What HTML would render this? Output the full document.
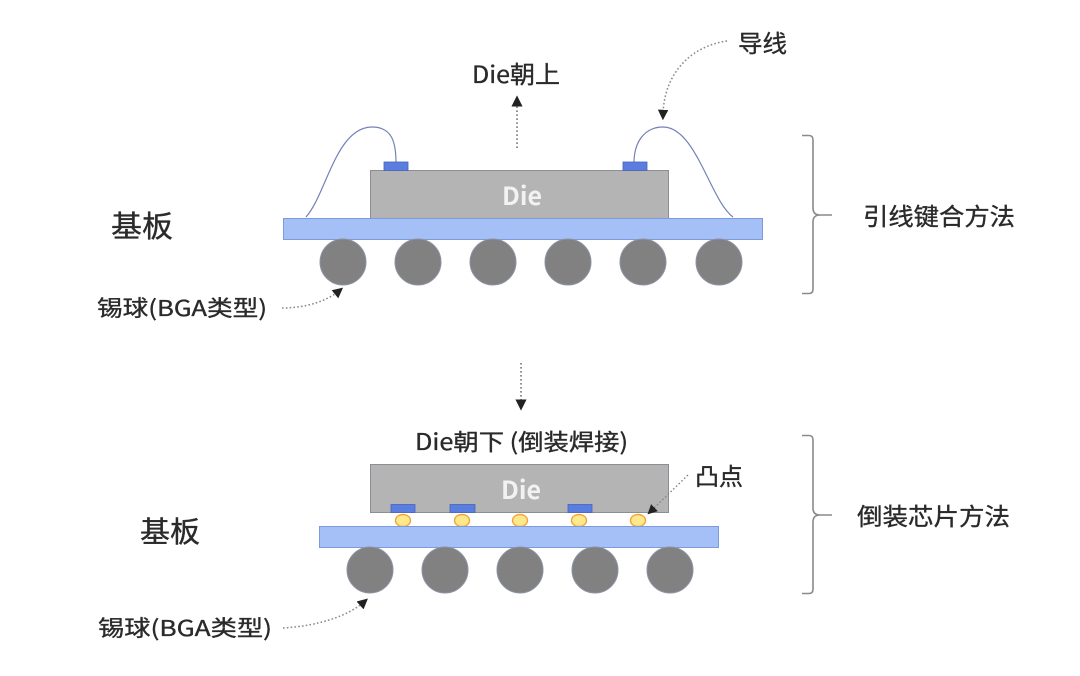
<!DOCTYPE html>
<html><head><meta charset="utf-8">
<style>
html,body{margin:0;padding:0;background:#fff;}
svg{display:block;}
text{font-family:"Liberation Sans","Noto Sans CJK SC",sans-serif;}
.t{font-family:"Noto Sans CJK SC","Liberation Sans",sans-serif;fill:#2a2a2a;stroke:#2a2a2a;stroke-width:0.35px;}
.d{font-family:"Noto Sans CJK SC","Liberation Sans",sans-serif;fill:#f2f2f2;font-weight:bold;}
</style></head>
<body>
<svg width="1080" height="676" viewBox="0 0 1080 676" xmlns="http://www.w3.org/2000/svg">
<defs>
<marker id="ah" viewBox="0 0 10 10" refX="5" refY="5" markerWidth="7" markerHeight="7" orient="auto">
<path d="M0,0 L10,5 L0,10 z" fill="#222"/>
</marker>
</defs>
<rect width="1080" height="676" fill="#fff"/>

<!-- ===== TOP: wire bonding ===== -->
<text class="t" x="472" y="83" font-size="24" textLength="88" lengthAdjust="spacingAndGlyphs">Die朝上</text>
<path d="M517,148 L517,101" stroke="#777" stroke-width="1.6" stroke-dasharray="1.6,2.4" fill="none" marker-end="url(#ah)"/>

<text class="t" x="738" y="52" font-size="24" textLength="49" lengthAdjust="spacingAndGlyphs">导线</text>
<path d="M727,41 C692,46 664,72 663,115" stroke="#888" stroke-width="1.5" stroke-dasharray="1.6,2.2" fill="none" marker-end="url(#ah)"/>

<!-- wires -->
<path d="M306,217 C326,195 336,127 372,127 C392,127 396,142 396,163" stroke="#7282b8" stroke-width="1.2" fill="none"/>
<path d="M634,163 C634,140 646,127 663,127 C696,127 710,200 733,217" stroke="#7282b8" stroke-width="1.2" fill="none"/>

<!-- die -->
<rect x="370.5" y="170.5" width="298" height="48" fill="#b4b4b4" stroke="#8d8d95" stroke-width="1"/>
<rect x="384" y="162" width="24" height="8.5" fill="#5a7ee0" stroke="#4a63b8" stroke-width="0.8"/>
<rect x="623" y="162" width="24" height="8.5" fill="#5a7ee0" stroke="#4a63b8" stroke-width="0.8"/>
<text class="d" x="522" y="205" font-size="25" text-anchor="middle">Die</text>

<!-- substrate -->
<rect x="283.5" y="218.5" width="479" height="21" fill="#a5c0f6" stroke="#7d9ada" stroke-width="1"/>

<!-- balls -->
<g fill="#818181" stroke="#8c93a6" stroke-width="1">
<circle cx="343" cy="262" r="23"/>
<circle cx="418" cy="262" r="23"/>
<circle cx="493" cy="262" r="23"/>
<circle cx="568" cy="262" r="23"/>
<circle cx="643" cy="262" r="23"/>
<circle cx="719" cy="262" r="23"/>
</g>

<text class="t" x="111" y="237" font-size="30" textLength="62" lengthAdjust="spacingAndGlyphs">基板</text>
<text class="t" x="97" y="316" font-size="22" textLength="170" lengthAdjust="spacingAndGlyphs">锡球(BGA类型)</text>
<path d="M282,308 C308,308 328,300 339,291" stroke="#888" stroke-width="1.5" stroke-dasharray="1.6,2.2" fill="none" marker-end="url(#ah)"/>

<!-- bracket top -->
<path d="M802,135.5 L809,135.5 Q813,135.5 813,140 L813,208 Q813,215 820,215 L832,215 M820,215 Q813,215 813,222 L813,289 Q813,293.5 809,293.5 L802,293.5" stroke="#8a8a8a" stroke-width="1.6" fill="none"/>
<text class="t" x="863" y="225" font-size="24" textLength="152" lengthAdjust="spacingAndGlyphs">引线键合方法</text>

<!-- middle arrow -->
<path d="M521,363 L521,405" stroke="#777" stroke-width="1.6" stroke-dasharray="1.6,2.4" fill="none" marker-end="url(#ah)"/>

<!-- ===== BOTTOM: flip chip ===== -->
<text class="t" x="415" y="450" font-size="23" textLength="213" lengthAdjust="spacingAndGlyphs">Die朝下 (倒装焊接)</text>

<rect x="370.5" y="464.5" width="298" height="48" fill="#b4b4b4" stroke="#8d8d95" stroke-width="1"/>
<text class="d" x="521" y="499" font-size="25" text-anchor="middle">Die</text>
<g fill="#5a7ee0" stroke="#4a63b8" stroke-width="0.8">
<rect x="391" y="504.5" width="24" height="8"/>
<rect x="450" y="504.5" width="25" height="8"/>
<rect x="568" y="504.5" width="24" height="8"/>
</g>
<g fill="#fde88c" stroke="#efa43c" stroke-width="1.4">
<ellipse cx="403" cy="520.5" rx="7.5" ry="6"/>
<ellipse cx="462" cy="520.5" rx="7.5" ry="6"/>
<ellipse cx="520" cy="520.5" rx="7.5" ry="6"/>
<ellipse cx="579" cy="520.5" rx="7.5" ry="6"/>
<ellipse cx="638" cy="520.5" rx="7.5" ry="6"/>
</g>

<rect x="319.5" y="526.5" width="399" height="21" fill="#a5c0f6" stroke="#7d9ada" stroke-width="1"/>

<g fill="#818181" stroke="#8c93a6" stroke-width="1">
<circle cx="370" cy="570" r="23"/>
<circle cx="445" cy="570" r="23"/>
<circle cx="520" cy="570" r="23"/>
<circle cx="595" cy="570" r="23"/>
<circle cx="670" cy="570" r="23"/>
</g>

<text class="t" x="695" y="485" font-size="24" textLength="48" lengthAdjust="spacingAndGlyphs">凸点</text>
<path d="M688,475 L651,511" stroke="#888" stroke-width="1.4" stroke-dasharray="1.6,2.2" fill="none" marker-end="url(#ah)"/>

<text class="t" x="140" y="542" font-size="29" textLength="60" lengthAdjust="spacingAndGlyphs">基板</text>
<text class="t" x="98" y="636" font-size="22" textLength="174" lengthAdjust="spacingAndGlyphs">锡球(BGA类型)</text>
<path d="M283,628 C318,626 348,616 364,602" stroke="#888" stroke-width="1.5" stroke-dasharray="1.6,2.2" fill="none" marker-end="url(#ah)"/>

<!-- bracket bottom -->
<path d="M802,435.5 L809,435.5 Q813,435.5 813,440 L813,508 Q813,515 820,515 L832,515 M820,515 Q813,515 813,522 L813,589 Q813,593.5 809,593.5 L802,593.5" stroke="#8a8a8a" stroke-width="1.6" fill="none"/>
<text class="t" x="857" y="525" font-size="24" textLength="153" lengthAdjust="spacingAndGlyphs">倒装芯片方法</text>
</svg>
</body></html>
